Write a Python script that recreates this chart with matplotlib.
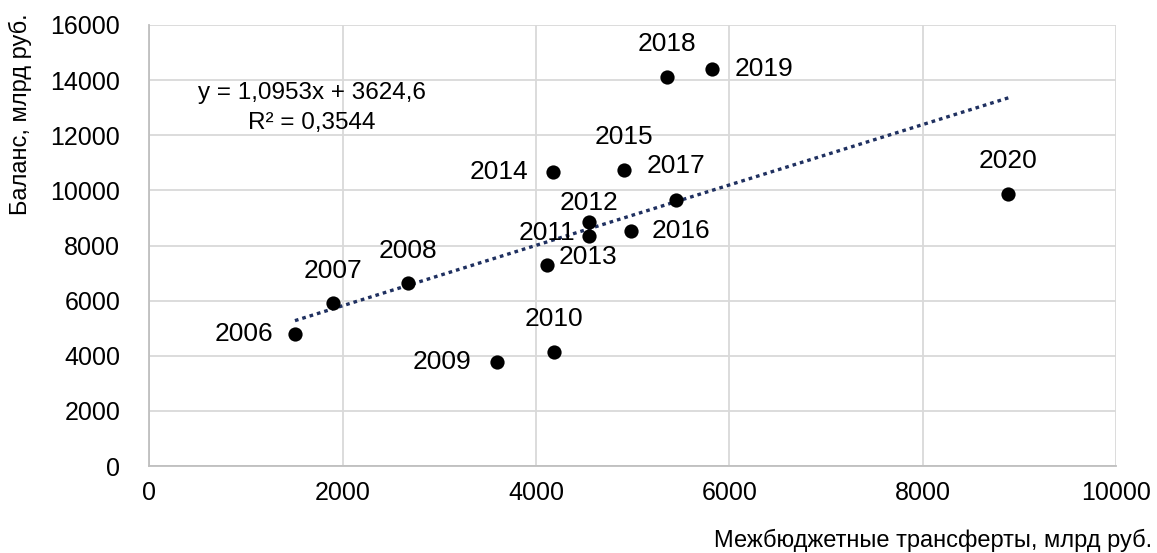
import numpy as np
import matplotlib
matplotlib.use('Agg')
from matplotlib import pyplot as plt

plt.rcParams['font.family'] = ['Liberation Sans', 'DejaVu Sans']

# Data
years = ['2006', '2007', '2008', '2009', '2010', '2011', '2012', '2013',
         '2014', '2015', '2016', '2017', '2018', '2019', '2020']
transfers = [1506, 1903, 2679, 3593, 4186, 4552, 4552, 4111,
             4179, 4911, 4980, 5449, 5359, 5824, 8887]
balance = [4788, 5901, 6627, 3783, 4146, 8343, 8862, 7291,
           10675, 10736, 8524, 9648, 14121, 14388, 9855]

# Trendline coefficients shown on the chart
slope = 1.0953
intercept = 3624.6
r2_text = 'R² = 0,3544'

# label offsets (pixels) and alignment for each point
label_pos = {
    '2006': (-22, 0, 'right'), '2007': (0, 32, 'center'), '2008': (0, 32, 'center'),
    '2009': (-25, 0, 'right'), '2010': (0, 33, 'center'), '2011': (-14, 3, 'right'),
    '2012': (0, 19, 'center'), '2013': (12, 8, 'left'), '2014': (-25, 0, 'right'),
    '2015': (0, 33, 'center'), '2016': (21, 0, 'left'), '2017': (0, 34, 'center'),
    '2018': (0, 33, 'center'), '2019': (22, 0, 'left'), '2020': (0, 33, 'center'),
}

fig = plt.figure(figsize=(11.57, 5.53), dpi=100)
ax = fig.add_axes([0.1291, 0.1573, 0.9646 - 0.1291, 0.9548 - 0.1573])

# trendline
tx = np.array([min(transfers), max(transfers)])
ax.plot(tx, slope * tx + intercept, color='#1f3060', lw=2.4,
        linestyle=(0, (1.1, 1.2)), zorder=3)

ax.scatter(transfers, balance, s=105, color='black', zorder=4, linewidths=0)

for yr, xv, yv in zip(years, transfers, balance):
    dx, dy, ha = label_pos[yr]
    ax.annotate(yr, (xv, yv), xytext=(dx, dy), textcoords='offset pixels',
                ha=ha, va='center', fontsize=19, zorder=5)

ax.text(1682, 13529, f'y = {slope:.4f}x + {intercept:.1f}'.replace('.', ','),
        ha='center', va='center', fontsize=17.5)
ax.text(1682, 12441, r2_text, ha='center', va='center', fontsize=17.5)

ax.set_xlim(0, 10000)
ax.set_ylim(0, 16000)
ax.set_xticks(np.arange(0, 10001, 2000))
ax.set_yticks(np.arange(0, 16001, 2000))
ax.grid(True, color='#d9d9d9', lw=1.3)
ax.set_axisbelow(True)
for s in ['top', 'right']:
    ax.spines[s].set_visible(False)
for s in ['left', 'bottom']:
    ax.spines[s].set_color('#bfbfbf')
    ax.spines[s].set_linewidth(1.3)
ax.tick_params(length=0, labelsize=18)
ax.tick_params(axis='y', pad=21)
ax.tick_params(axis='x', pad=11)

fig.text(1152 / 1157, 1 - 540 / 553, 'Межбюджетные трансферты, млрд руб.',
         ha='right', va='center', fontsize=17)
fig.text(20 / 1157, 1 - 13 / 553, 'Баланс, млрд руб.', rotation=90,
         ha='center', va='top', fontsize=17)

fig.savefig('out.png', dpi=100)
